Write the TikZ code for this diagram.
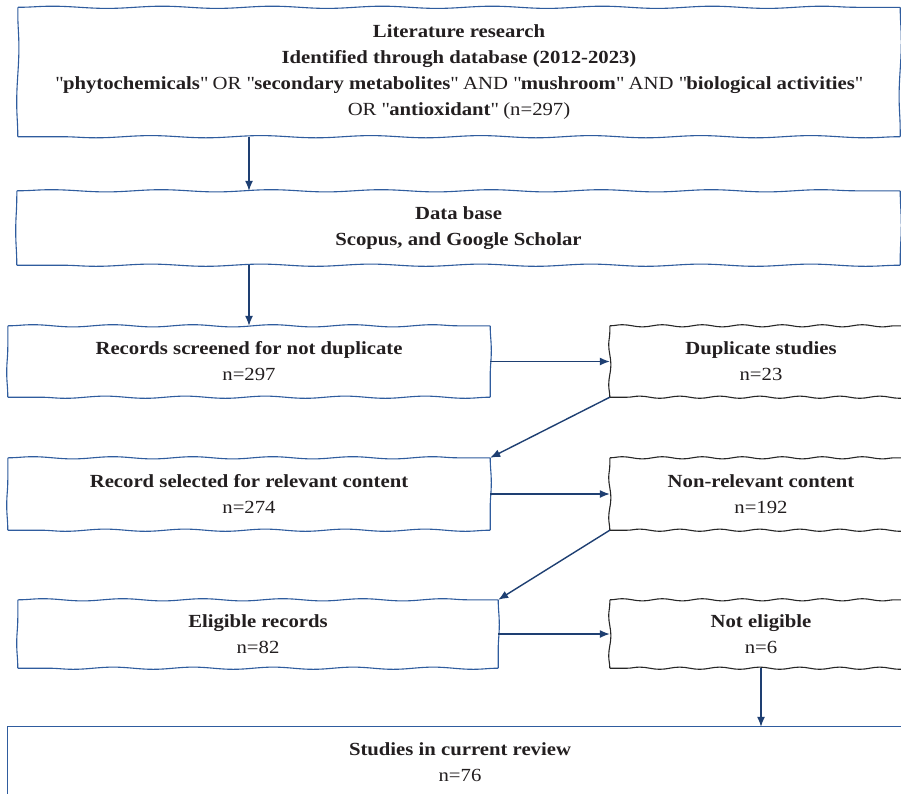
\documentclass[tikz,border=0pt]{standalone}
\usepackage{fontspec}
\setmainfont{Liberation Serif}[FakeStretch=1.12]
\usetikzlibrary{arrows.meta,decorations.pathmorphing}
\definecolor{boxblue}{HTML}{2F5C9E}
\definecolor{arrowblue}{HTML}{1E3F72}
\definecolor{txt}{HTML}{231F20}
\newcommand\qq{\textquotedbl}
\newcommand\wbox[3]{%
  \draw[#2, line width=1.1pt, line join=round,
        decoration={snake, segment length=#3, amplitude=1.1pt}]
    decorate{(#1.north west) -- (#1.north east)}
    decorate{(#1.north east) -- (#1.south east)}
    decorate{(#1.south east) -- (#1.south west)}
    decorate{(#1.south west) -- (#1.north west)};}
\tikzset{
  boxtext/.style={inner sep=0pt, align=center, text=txt,
    font=\fontsize{18.5}{26}\selectfont},
  flow/.style={draw=arrowblue, line width=1.4pt,
    -{Latex[length=10pt,width=8pt]}}
}
\begin{document}
\begin{tikzpicture}[x=1pt,y=-1pt]
\path[use as bounding box, clip] (0,0) rectangle (901,793);
\fill[white] (0,0) rectangle (901,793);

\node[boxtext, minimum width=882pt, minimum height=129pt] (lit) at (459,72)
 {\textbf{Literature research}\\
  \textbf{Identified through database (2012-2023)}\\
  \qq\textbf{phytochemicals}\qq{} OR \qq\textbf{secondary metabolites}\qq{} AND \qq\textbf{mushroom}\qq{} AND \qq\textbf{biological activities}\qq\\
  OR \qq\textbf{antioxidant}\qq{} (n=297)};

\node[boxtext, minimum width=883pt, minimum height=74pt] (db) at (458.5,228)
 {\textbf{Data base}\\ \textbf{Scopus, and Google Scholar}};

\node[boxtext, minimum width=482pt, minimum height=71pt] (scr) at (249,361.5)
 {\textbf{Records screened for not duplicate}\\ n=297};

\node[boxtext, minimum width=302pt, minimum height=71pt] (dup) at (761,361.5)
 {\textbf{Duplicate studies}\\ n=23};

\node[boxtext, minimum width=482pt, minimum height=72pt] (sel) at (249,494)
 {\textbf{Record selected for relevant content}\\ n=274};

\node[boxtext, minimum width=302pt, minimum height=72pt] (nonrel) at (761,494)
 {\textbf{Non-relevant content}\\ n=192};

\node[boxtext, minimum width=480pt, minimum height=68pt] (elig) at (258,634)
 {\textbf{Eligible records}\\ n=82};

\node[boxtext, minimum width=302pt, minimum height=68pt] (noteli) at (761,634)
 {\textbf{Not eligible}\\ n=6};

\node[boxtext, minimum width=904pt, minimum height=70pt] (stud) at (460,762)
 {\textbf{Studies in current review}\\ n=76};

\wbox{lit}{boxblue}{110pt}
\wbox{db}{boxblue}{110pt}
\wbox{scr}{boxblue}{80pt}
\wbox{sel}{boxblue}{80pt}
\wbox{elig}{boxblue}{80pt}
\draw[boxblue, line width=1.1pt] (stud.south west) -- (stud.north west) -- (stud.north east);
\wbox{dup}{black!85}{40pt}
\wbox{nonrel}{black!85}{40pt}
\wbox{noteli}{black!85}{40pt}

\draw[flow] (lit.south -| scr) -- (db.north -| scr);
\draw[flow] (db.south -| scr) -- (scr.north);
\draw[flow] (scr.east) -- (dup.west);
\draw[flow] (dup.south west) -- (sel.north east);
\draw[flow] (sel.east) -- (nonrel.west);
\draw[flow] (nonrel.south west) -- (elig.north east);
\draw[flow] (elig.east) -- (noteli.west);
\draw[flow] (noteli.south) -- (noteli.south |- stud.north);
\end{tikzpicture}
\end{document}
